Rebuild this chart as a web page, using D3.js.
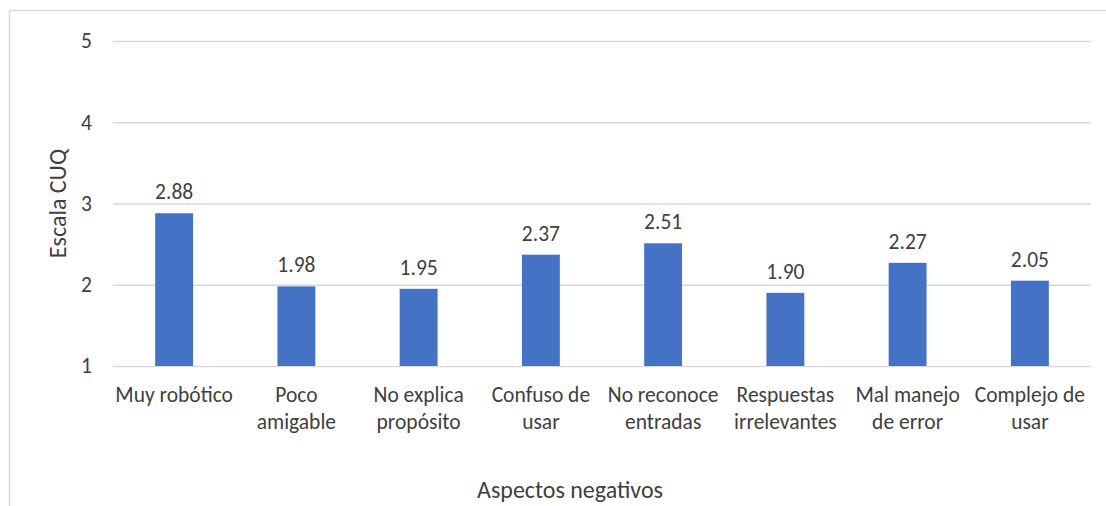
<!DOCTYPE html>
<html>
<head>
<meta charset="utf-8">
<script src="https://cdn.jsdelivr.net/npm/d3@7"></script>
<style>
  html, body { margin: 0; padding: 0; background: #ffffff; }
  svg { display: block; }
  text { font-family: Carlito, Calibri, "Open Sans", Lato, sans-serif; fill: #404040; }
</style>
</head>
<body>
<svg id="chart" width="1106" height="506"></svg>
<script>
// Aspectos negativos del chatbot, valores promedio en escala CUQ
const categories = [
  ["Muy robótico"],
  ["Poco", "amigable"],
  ["No explica", "propósito"],
  ["Confuso de", "usar"],
  ["No reconoce", "entradas"],
  ["Respuestas", "irrelevantes"],
  ["Mal manejo", "de error"],
  ["Complejo de", "usar"]
];
const values = [2.88, 1.98, 1.95, 2.37, 2.51, 1.90, 2.27, 2.05];
const yTicks = [1, 2, 3, 4, 5];
const yTitle = "Escala CUQ";
const xTitle = "Aspectos negativos";

const svg = d3.select("#chart");
const W = 1106, H = 506;
const plot = { left: 113, right: 1091, top: 41, bottom: 366 };
const labelSize = 21.5;
const titleSize = 24;

// outer frame: only top and left edges are visible
svg.append("line").attr("x1", 9.5).attr("x2", W).attr("y1", 10.5).attr("y2", 10.5)
  .attr("stroke", "#d9d9d9").attr("stroke-width", 1.5);
svg.append("line").attr("x1", 9.5).attr("x2", 9.5).attr("y1", 10.5).attr("y2", H)
  .attr("stroke", "#d9d9d9").attr("stroke-width", 1.5);

const keys = categories.map(c => c.join(" "));
const x = d3.scaleBand().domain(keys).range([plot.left, plot.right]).paddingInner(0.69).paddingOuter(0.345);
const y = d3.scaleLinear().domain([1, 5]).range([plot.bottom, plot.top]);

// gridlines + tick labels
const yAxis = d3.axisLeft(y).tickValues(yTicks).tickSize(-(plot.right - plot.left)).tickPadding(21).tickFormat(d3.format("d"));
const gy = svg.append("g").attr("transform", `translate(${plot.left},0)`).call(yAxis);
gy.select(".domain").remove();
gy.selectAll(".tick line").attr("stroke", "#d9d9d9").attr("stroke-width", 1.5);
gy.selectAll(".tick text").attr("font-size", labelSize).attr("fill", "#404040")
  .style("font-family", "Carlito, Calibri, 'Open Sans', Lato, sans-serif");

// bars
svg.append("g").selectAll("rect").data(values).join("rect")
  .attr("x", (d, i) => x(keys[i]))
  .attr("width", x.bandwidth())
  .attr("y", d => y(d))
  .attr("height", d => y(1) - y(d))
  .attr("fill", "#4472c4");

// value labels
svg.append("g").selectAll("text").data(values).join("text")
  .attr("x", (d, i) => x(keys[i]) + x.bandwidth() / 2)
  .attr("y", d => y(d) - 14)
  .attr("text-anchor", "middle")
  .attr("font-size", labelSize)
  .text(d => d.toFixed(2));

// category labels (two lines)
const cat = svg.append("g").selectAll("text").data(categories).join("text")
  .attr("x", (d, i) => x(keys[i]) + x.bandwidth() / 2)
  .attr("y", 402)
  .attr("text-anchor", "middle")
  .attr("font-size", labelSize);
cat.selectAll("tspan").data(d => d).join("tspan")
  .attr("x", function () { return this.parentNode.getAttribute("x"); })
  .attr("dy", (d, i) => i === 0 ? 0 : 27)
  .text(d => d);

// axis titles
svg.append("text")
  .attr("transform", `translate(66,${(plot.top + plot.bottom) / 2}) rotate(-90)`)
  .attr("text-anchor", "middle")
  .attr("font-size", titleSize)
  .attr("fill", "#000")
  .text(yTitle);

svg.append("text")
  .attr("x", 570).attr("y", 498)
  .attr("text-anchor", "middle")
  .attr("font-size", titleSize)
  .attr("fill", "#000")
  .text(xTitle);
</script>
</body>
</html>
